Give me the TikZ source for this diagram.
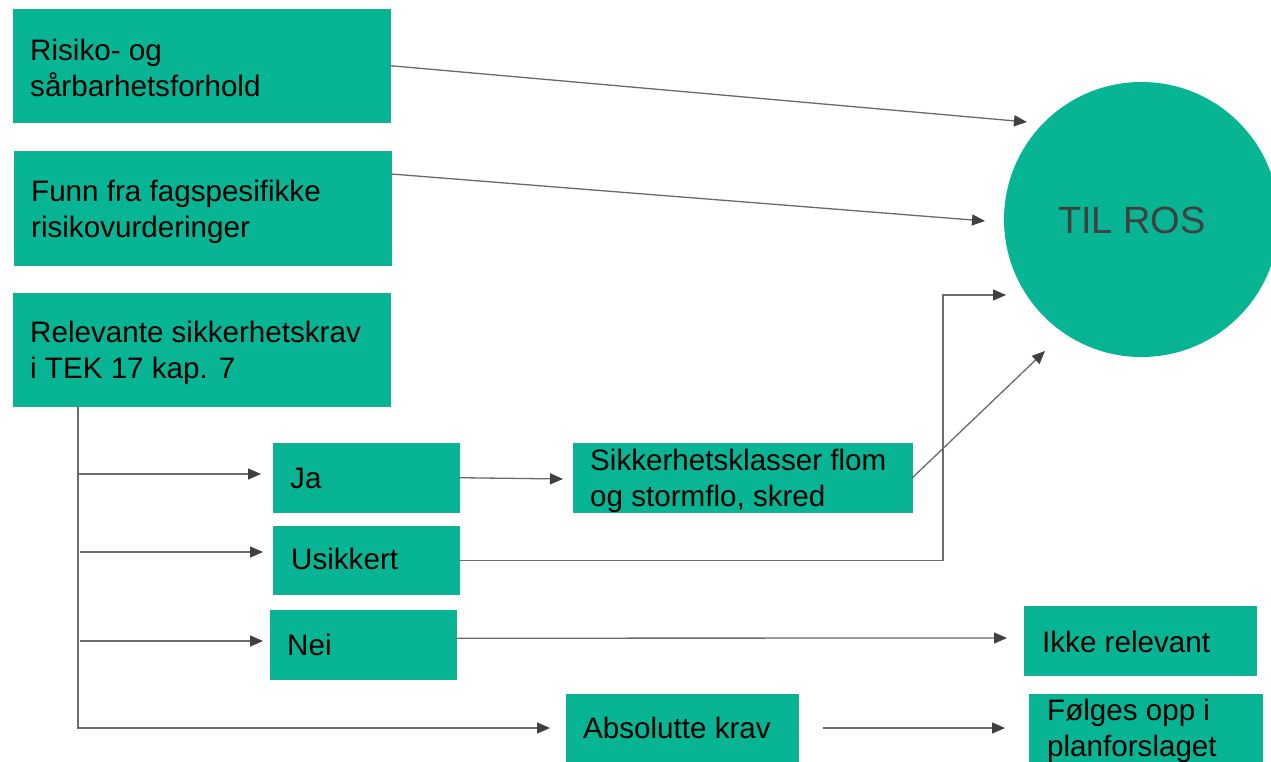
\documentclass[tikz,border=0pt]{standalone}
\usepackage{fontspec}
\setmainfont{Liberation Sans}
\usetikzlibrary{arrows.meta,calc}
\definecolor{boxgreen}{HTML}{07B594}
\definecolor{linegray}{HTML}{6A6A6A}
\definecolor{headgray}{HTML}{404040}
\definecolor{rostext}{HTML}{404040}
\newcommand\twol[2]{\vtop{\baselineskip=36pt\hbox{#1}\hbox{#2}}}
\begin{document}
\begin{tikzpicture}[x=1pt,y=-1pt,
  box/.style={rectangle, fill=boxgreen, draw=boxgreen!85!gray, line width=0.4pt, inner sep=0pt, anchor=north west},
  txt/.style={anchor=base west, inner sep=0pt, font=\fontsize{29.6}{36}\selectfont, text=black},
  conn/.style={draw=linegray, line width=1.3pt, -{Triangle[length=13pt,width=11pt,color=headgray]}},
  plainline/.style={draw=linegray, line width=1.3pt}]
\useasboundingbox (0,0) rectangle (1271,761);
\clip (0,0) rectangle (1271,761);
\fill[white] (0,0) rectangle (1271,761);

% boxes
\node[box, minimum width=377pt, minimum height=113pt] (b1) at (13,9) {};
\node[box, minimum width=377pt, minimum height=114pt] (b2) at (14,151) {};
\node[box, minimum width=377pt, minimum height=113pt] (b3) at (13,293) {};
\node[box, minimum width=186pt, minimum height=69pt] (ja) at (273,443) {};
\node[box, minimum width=186pt, minimum height=68pt] (us) at (273,526) {};
\node[box, minimum width=186pt, minimum height=69pt] (nei) at (270,610) {};
\node[box, minimum width=339pt, minimum height=69pt] (sik) at (573,443) {};
\node[box, minimum width=232pt, minimum height=69pt] (ikke) at (1024,606) {};
\node[box, minimum width=232pt, minimum height=80pt] (abs) at (566,694) {};
\node[box, minimum width=233pt, minimum height=80pt] (folg) at (1029,694) {};
\node[circle, fill=boxgreen, minimum size=275pt, inner sep=0pt] (ros) at (1141.5,219.5) {};

% texts
\node[txt] (t1) at (30,60) {\twol{Risiko- og}{sårbarhetsforhold}};
\node[txt] (t2) at (31,201) {\twol{Funn fra fagspesifikke}{risikovurderinger}};
\node[txt] (t3) at (30,342) {\twol{Relevante sikkerhetskrav}{i TEK 17 kap. 7}};
\node[txt] (tja) at (290,488) {Ja};
\node[txt] (tus) at (291,569) {Usikkert};
\node[txt] (tnei) at (287,655) {Nei};
\node[txt] (tsik) at (590,470) {\twol{Sikkerhetsklasser flom}{og stormflo, skred}};
\node[txt] (tabs) at (583,738) {Absolutte krav};
\node[txt] (tikke) at (1042,652) {Ikke relevant};
\node[txt] (tfolg) at (1047,720) {\twol{Følges opp i}{planforslaget}};
\node[anchor=base, inner sep=0pt, font=\fontsize{38}{44}\selectfont, text=rostext] (tros) at (1132,233) {TIL ROS};

% arrow tip coordinates
\coordinate (p1) at (1027,122);
\coordinate (p2) at (985,221);
\coordinate (p3) at (563,479);
\coordinate (p4) at (1045,351);
\coordinate (e5) at (943,295);
\coordinate (p5) at (1006,295);
\coordinate (p6) at (1007,638);
\coordinate (p7) at (1005,728);
\coordinate (pabs) at (550,728);
\coordinate (bj) at (78,474);
\coordinate (pj) at (261,474);
\coordinate (bu) at (80,552);
\coordinate (pu) at (263,552);
\coordinate (bn) at (80,641);
\coordinate (pn) at (263,641);

% connectors
\draw[conn] (b1.east) -- (p1);
\draw[conn] ([yshift=-23pt]b2.north east) -- (p2);
\draw[conn] (ja.east) -- (p3);
\draw[conn] (sik.east) -- (p4);
\draw[conn] (us.east) -| (e5) -- (p5);
\draw[conn] ([yshift=6.5pt]nei.east) -- (p6);
\draw[conn] ($(abs.north east)+(25,34)$) -- (p7);
\draw[conn] ([xshift=65pt]b3.south west) |- (pabs);
\draw[conn] (bj) -- (pj);
\draw[conn] (bu) -- (pu);
\draw[conn] (bn) -- (pn);
\end{tikzpicture}
\end{document}
